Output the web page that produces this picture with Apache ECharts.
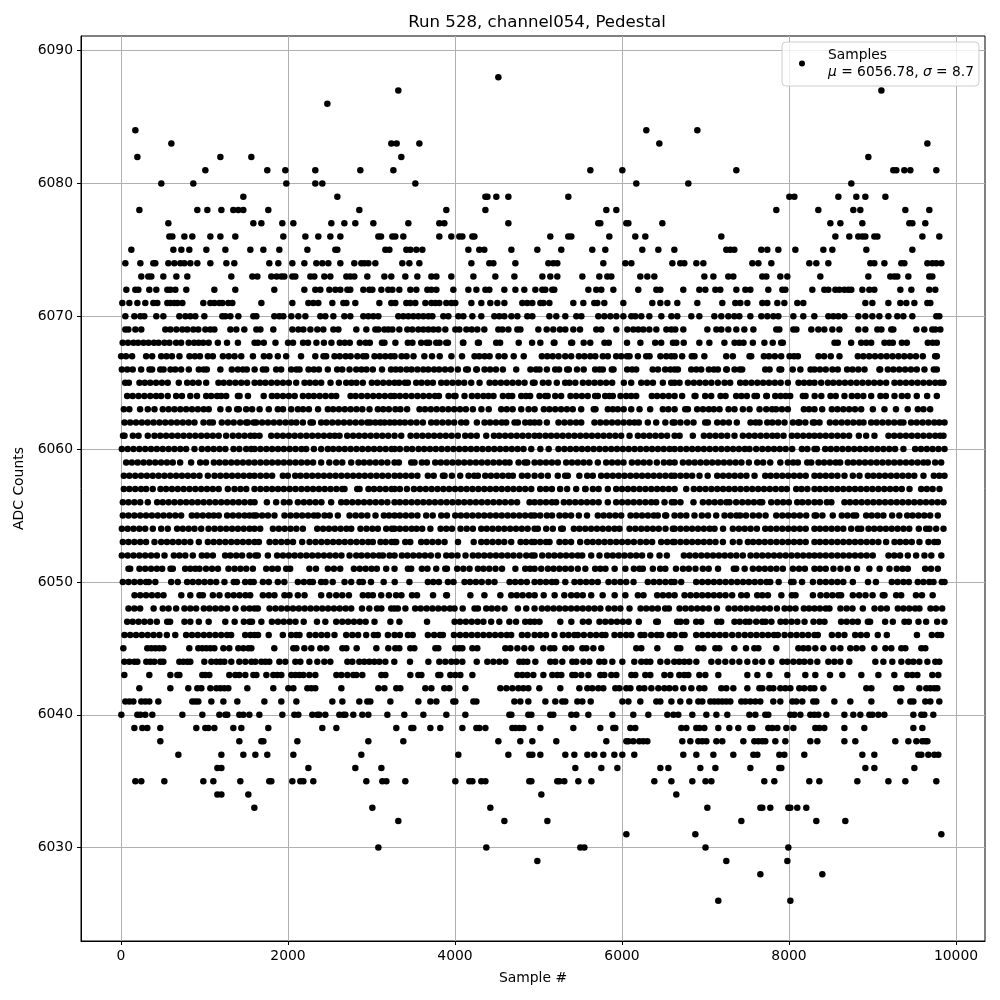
<!DOCTYPE html>
<html><head><meta charset="utf-8">
<style>html,body{margin:0;padding:0;background:#fff}#c{width:1000px;height:1000px}</style>
<script src="https://cdn.jsdelivr.net/npm/echarts@6/dist/echarts.min.js"></script>
</head><body><div id="c"></div>
<script>
const titleText="Run 528, channel054, Pedestal";
const xName="Sample #";
const yName="ADC Counts";
const xTicks=[0,2000,4000,6000,8000,10000];
const yTicks=[6030,6040,6050,6060,6070,6080,6090];
const a6088=[4519];
const a6087=[3321,9106];
const a6086=[2471];
const a6084=[172,6291,6902];
const a6083=[603,3237,3301,3573,6447,9657];
const a6082=[196,1190,1561,3357,8950];
const a6081=[1010,1752,1968,2327,2866,3262,5621,6004,7369,9249,9285,9381,9453,9764];
const a6080=[483,866,1980,2327,2411,3525,6171,6794,8746];
const a6079=[1465,2591,4364,4388,4495,4639,5357,8004,8064,8591,8806,8914,9154];
const a6078=[220,914,1034,1202,1345,1405,1465,1764,2854,3896,4364,5812,5932,7848,8351,8770,8854,9393,9680];
const a6077=[567,1585,1681,1932,2064,2519,2675,2806,3022,3441,3812,3872,4639,5716,5740,6052,6076,6483,8495,8615,8878,9441,9477,9632];
const a6076=[579,615,759,854,1070,1190,1369,1944,2208,2363,2507,2627,3082,3114,3250,3285,3381,3812,3956,4052,4088,4208,4232,5141,5357,5393,5848,6159,6279,7189,8555,8722,8830,8878,8914,9022,9058,9597,9800];
const a6075=[124,627,723,818,1022,1250,1549,1705,1896,2232,2567,2591,3166,3214,3417,3465,3537,3609,4160,4291,4351,4675,4986,5273,5644,5800,6243,6435,6627,7249,7297,7345,7668,7740,7872,8076,8411,8519,8926,9477];
const a6074=[52,232,387,411,567,639,711,759,830,914,1070,1262,1357,1776,1884,2052,2196,2339,2411,2483,2627,2794,2878,2914,2962,3046,3369,3453,3573,4196,4411,4459,4723,5118,5177,5225,5776,6040,6112,6603,6698,6746,6890,6974,7561,7633,7788,8243,8327,8471,8974,9022,9142,9345,9381,9657,9716,9764,9824];
const a6073=[243,327,363,507,663,794,1321,1573,1633,1800,1864,1920,1956,2052,2088,2268,2315,2435,2507,2699,2746,2794,2950,3154,3237,3405,3549,3717,3777,3956,4220,4483,4711,5046,5141,5225,5525,5728,5824,5872,6219,6303,6387,6986,7094,7273,7333,7680,7728,7896,7980,8375,8950,9213,9261,9297,9429,9680,9716];
const a6072=[64,172,208,339,423,555,591,651,782,1118,1369,1836,2196,2327,2387,2495,2567,2627,2711,2746,2902,2974,3010,3118,3201,3250,3333,3465,3537,3669,3717,3777,3980,4160,4256,4364,4411,4591,4723,4830,4962,5046,5082,5165,5189,5597,5692,5752,5896,6195,6411,6459,6734,6926,6998,7118,7177,7369,7477,7537,7752,7920,7956,8279,8423,8471,8555,8603,8663,8710,8746,8878,8962,9022,9333,9465,9680,9752];
const a6071=[16,100,196,291,387,435,555,591,639,675,735,986,1070,1118,1178,1214,1285,1333,1681,2052,2244,2303,2363,2531,2663,2699,2806,3094,3237,3285,3417,3465,3525,3645,3717,3765,3812,3896,3956,4004,4196,4315,4423,4507,4591,4806,4866,4926,5022,5058,5130,5417,5537,5668,5704,5788,6016,6363,6459,6543,6662,6902,7201,7357,7417,7501,7680,7740,7860,7944,8099,8171,8914,8998,9190,9333,9405,9501,9657,9692];
const a6070=[52,160,232,279,423,507,699,771,830,890,998,1214,1250,1310,1405,1585,1621,1836,1896,1944,2040,2124,2208,2387,2447,2543,2675,2746,2902,2962,3022,3082,3321,3381,3441,3501,3561,3621,3681,3729,3860,3920,4040,4100,4208,4315,4471,4531,4591,4675,4747,4866,4926,5130,5213,5321,5453,5513,5716,5788,5860,5932,6016,6112,6159,6231,6327,6471,6591,6662,6830,6926,7106,7189,7273,7345,7405,7537,7668,7740,7812,7872,8052,8171,8303,8471,8531,8591,8663,8830,8914,8998,9082,9190,9297,9369,9477,9764,9800];
const a6069=[52,88,172,243,531,591,663,735,794,866,926,1010,1070,1118,1310,1381,1477,1621,1669,1824,2052,2124,2184,2268,2351,2423,2543,2603,2818,2938,3046,3082,3154,3201,3250,3333,3429,3489,3561,3621,3681,3741,3801,3884,4004,4052,4136,4200,4267,4351,4519,4567,4639,4747,4783,4998,5098,5177,5257,5321,5417,5497,5692,5752,5932,6064,6135,6195,6255,6327,6411,6531,6591,6638,6734,7022,7130,7189,7273,7369,7465,7573,7848,7884,8052,8088,8267,8351,8423,8519,8603,8830,8914,9058,9106,9225,9249,9525,9620,9716,9752,9812];
const a6068=[20,84,150,205,270,330,395,450,520,580,660,720,810,875,930,985,1050,1160,1270,1400,1600,1640,1710,1850,2000,2060,2180,2240,2340,2430,2520,2620,2680,2740,2860,2930,2980,3125,3155,3286,3435,3490,3595,3660,3690,3775,3815,3895,3915,4095,4100,4274,4286,4493,4540,4763,4923,5022,5183,5191,5391,5403,5541,5620,5790,5842,6060,6220,6397,6469,6610,6650,6739,6926,7046,7226,7348,7405,7455,7567,7705,7805,7906,7926,8545,8584,8744,8864,8925,8984,9143,9200,9243,9351,9411,9662,9720,9770];
const a6067=[2,60,133,301,373,481,545,610,700,820,885,945,1040,1100,1220,1290,1360,1440,1580,1711,1778,1878,1978,2156,2327,2425,2457,2557,2620,2690,2750,2830,2900,2936,3036,3100,3165,3230,3276,3360,3420,3503,3633,3725,3817,3957,4084,4234,4290,4355,4414,4521,4593,4703,4823,5040,5105,5170,5240,5320,5391,5483,5550,5620,5680,5770,5830,5930,5990,6060,6090,6190,6290,6330,6460,6530,6590,6630,6720,6836,6868,6986,7248,7327,7527,7547,7699,7760,7830,7906,8006,8060,8106,8353,8420,8500,8604,8824,8890,8960,9030,9100,9170,9240,9310,9380,9450,9520,9602,9750,9770];
const a6066=[10,75,140,241,341,373,470,510,593,650,720,812,932,990,1028,1190,1327,1400,1460,1507,1600,1699,1739,1858,1918,2038,2100,2138,2246,2310,2370,2477,2589,2650,2737,2817,2880,2940,3016,3126,3234,3290,3348,3420,3480,3550,3620,3680,3750,3810,3880,3950,4034,4134,4154,4254,4262,4354,4420,4490,4573,4733,4903,4970,5012,5100,5200,5246,5343,5363,5461,5541,5678,5730,5770,5878,5898,6062,6120,6170,6367,6431,6517,6580,6630,6669,6829,6890,6948,7040,7100,7148,7248,7256,7348,7410,7439,7715,7767,7886,7906,8044,8136,8258,8305,8370,8440,8520,8584,8696,8760,8830,8904,9083,9091,9183,9250,9320,9390,9460,9530,9622,9734,9770];
const a6065=[50,94,221,285,350,420,490,560,692,792,860,930,1020,1167,1230,1300,1370,1440,1510,1600,1665,1730,1800,1870,1940,2010,2098,2198,2262,2330,2397,2509,2609,2697,2760,2820,2896,3004,3070,3140,3210,3276,3330,3400,3436,3535,3600,3670,3735,3835,3900,3970,4040,4110,4194,4294,4414,4480,4550,4620,4690,4760,4833,4933,4953,5052,5120,5219,5319,5371,5441,5531,5600,5670,5740,5810,5882,6022,6110,6230,6300,6370,6489,6589,6630,6689,6789,6860,6930,7000,7070,7148,7228,7295,7415,7480,7550,7620,7690,7760,7830,7900,7986,8114,8180,8246,8305,8385,8465,8530,8600,8670,8740,8810,8880,8950,9020,9090,9163,9263,9330,9400,9470,9540,9610,9680,9750,9810,9850];
const a6064=[74,140,210,280,350,420,480,560,660,730,830,910,1020,1080,1150,1200,1260,1400,1420,1520,1709,1807,1870,1940,2010,2080,2178,2246,2310,2380,2450,2520,2577,2749,2810,2880,2950,3020,3090,3160,3230,3276,3340,3410,3480,3550,3620,3690,3760,3807,3923,3990,4006,4114,4202,4270,4340,4400,4461,4573,4640,4685,4793,4850,4900,5012,5080,5110,5200,5271,5383,5450,5520,5590,5678,5710,5798,5850,5890,5982,6050,6110,6170,6357,6420,6490,6560,6630,6720,6869,6880,6996,7068,7180,7240,7367,7430,7495,7587,7615,7727,7735,7835,7900,7960,8014,8166,8198,8307,8387,8497,8560,8664,8752,8820,8890,8984,9095,9160,9263,9351,9420,9530,9654,9770];
const a6063=[34,100,229,321,401,500,570,640,710,780,850,920,990,1051,1190,1289,1391,1411,1499,1570,1660,1770,1878,1940,2038,2118,2180,2250,2360,2477,2540,2610,2680,2750,2820,2890,2976,3076,3140,3208,3286,3346,3426,3575,3640,3710,3780,3850,3920,3990,4060,4130,4214,4316,4404,4553,4620,4690,4793,4881,4953,5064,5130,5200,5270,5340,5410,5511,5662,5682,5830,5890,5950,6020,6110,6210,6337,6489,6555,6630,6757,6789,6900,6970,7040,7100,7168,7276,7347,7447,7527,7647,7727,7797,7845,7915,7986,8178,8240,8305,8397,8513,8580,8650,8720,8790,8864,9004,9143,9281,9421,9542,9610,9690];
const a6062=[42,110,180,250,320,390,460,530,600,670,740,810,880,988,1060,1100,1207,1280,1350,1427,1499,1519,1589,1619,1690,1760,1830,1900,1970,2040,2100,2178,2270,2297,2397,2460,2530,2600,2670,2740,2810,2880,2950,2984,3046,3106,3156,3220,3276,3340,3400,3470,3540,3615,3715,3780,3850,3920,3990,4074,4134,4262,4354,4420,4490,4560,4613,4713,4753,4841,4900,4953,5010,5100,5239,5310,5380,5450,5511,5670,5740,5810,5880,5950,6020,6090,6150,6201,6309,6409,6519,6607,6630,6700,6780,6856,6996,7028,7140,7210,7280,7375,7539,7600,7647,7739,7800,7870,7946,8046,8110,8126,8196,8286,8305,8365,8489,8560,8630,8700,8770,8840,8892,8984,9050,9120,9190,9260,9330,9370,9462,9530,9600,9670,9740,9800,9862];
const a6061=[24,42,142,210,321,401,470,540,610,680,750,820,890,960,1030,1100,1170,1259,1339,1410,1480,1550,1600,1659,1799,1870,1940,2010,2080,2150,2220,2290,2360,2430,2500,2560,2617,2709,2780,2850,2920,2990,3060,3130,3200,3276,3356,3468,3540,3610,3680,3750,3820,3890,3960,4034,4122,4190,4260,4374,4466,4530,4600,4670,4740,4810,4880,4953,5012,5084,5150,5220,5290,5360,5430,5500,5570,5640,5710,5780,5850,5920,5990,6090,6190,6260,6330,6400,6470,6540,6630,6690,6848,6980,7050,7120,7190,7260,7347,7447,7520,7590,7660,7730,7800,7860,7934,8034,8100,8170,8240,8305,8370,8440,8510,8580,8650,8720,8836,8924,9023,9191,9260,9330,9400,9470,9540,9610,9680,9750,9810,9850];
const a6060=[10,80,150,220,290,360,430,500,570,640,710,780,880,968,1040,1110,1180,1250,1347,1417,1499,1560,1600,1670,1740,1810,1880,1950,2020,2090,2160,2218,2310,2397,2477,2540,2610,2680,2750,2820,2890,2960,3030,3100,3170,3240,3276,3340,3420,3487,3563,3630,3700,3770,3840,3910,3980,4050,4120,4190,4260,4330,4400,4470,4540,4610,4680,4750,4820,4913,5022,5122,5239,5310,5380,5450,5520,5590,5660,5730,5800,5870,5940,6010,6080,6150,6220,6290,6360,6430,6500,6570,6630,6700,6770,6840,6910,6980,7050,7120,7190,7260,7330,7400,7470,7527,7607,7680,7750,7820,7890,7960,8038,8154,8220,8305,8333,8433,8500,8570,8640,8710,8780,8850,8920,8990,9060,9130,9200,9270,9370,9510,9580,9650,9720,9790,9862];
const a6059=[62,130,200,270,340,410,480,550,620,708,840,948,1018,1112,1180,1250,1320,1390,1460,1530,1599,1670,1740,1810,1880,1950,2020,2090,2160,2230,2300,2397,2495,2577,2650,2757,2844,2910,2980,3050,3120,3190,3276,3328,3476,3515,3603,3663,3763,3830,3900,3970,4040,4110,4180,4250,4320,4390,4460,4530,4600,4653,4761,4835,4865,4953,5020,5090,5160,5231,5331,5400,5470,5540,5610,5710,5810,5880,5950,6018,6118,6190,6260,6330,6417,6501,6570,6630,6729,6800,6870,6940,7010,7080,7150,7220,7290,7360,7430,7519,7619,7690,7775,7896,7986,8050,8106,8218,8266,8353,8420,8490,8560,8612,8704,8770,8840,8910,8980,9050,9120,9190,9260,9330,9400,9470,9540,9610,9662,9750,9822];
const a6058=[34,100,170,240,310,380,450,520,590,660,730,800,870,940,1040,1120,1190,1260,1330,1400,1470,1540,1599,1670,1740,1810,1938,1998,2086,2150,2220,2290,2360,2430,2500,2570,2640,2710,2780,2850,2920,2990,3060,3130,3200,3276,3340,3410,3480,3550,3675,3745,3855,3875,3963,4062,4162,4230,4274,4362,4430,4500,4570,4640,4693,4801,4870,4953,5032,5112,5231,5319,5351,5489,5583,5650,5750,5820,5890,5960,6030,6100,6170,6240,6310,6380,6450,6520,6590,6630,6700,6770,6840,6928,7026,7140,7210,7280,7350,7420,7490,7587,7715,7780,7850,7920,7990,8060,8130,8200,8305,8370,8440,8510,8580,8664,8764,8844,8944,9010,9080,9150,9220,9290,9360,9430,9500,9610,9734,9800,9862];
const a6057=[34,100,170,240,301,380,473,540,610,680,750,820,890,960,1030,1100,1170,1279,1359,1430,1500,1599,1670,1740,1810,1880,1950,2020,2090,2160,2230,2300,2370,2440,2510,2580,2650,2677,2829,2857,2964,3030,3100,3170,3240,3276,3340,3424,3508,3580,3650,3720,3790,3860,3930,4000,4070,4140,4210,4280,4350,4420,4490,4560,4630,4700,4770,4840,4913,5020,5090,5160,5259,5343,5451,5559,5563,5651,5720,5830,5930,6000,6070,6140,6210,6280,6350,6420,6490,6560,6630,6769,6860,6930,7000,7070,7140,7210,7280,7350,7420,7490,7560,7630,7700,7770,7840,7910,7974,8086,8150,8220,8305,8370,8440,8510,8580,8650,8720,8790,8860,8930,9000,9070,9140,9210,9280,9350,9443,9582,9650,9720,9802];
const a6056=[22,90,160,230,321,433,500,570,640,710,780,850,920,990,1060,1130,1200,1270,1340,1410,1480,1550,1599,1747,1858,1950,2018,2118,2190,2260,2330,2400,2517,2637,2700,2770,2840,2910,2980,3050,3120,3190,3276,3340,3410,3480,3550,3620,3690,3760,3830,3900,3970,4040,4110,4180,4250,4320,4390,4460,4530,4600,4673,4743,4893,4953,5020,5090,5160,5211,5303,5370,5440,5510,5580,5650,5720,5830,5930,6000,6070,6140,6210,6280,6350,6409,6509,6597,6630,6700,6856,6968,7040,7110,7180,7250,7287,7367,7440,7510,7580,7650,7679,7787,7860,7930,7998,8098,8160,8230,8305,8370,8453,8507,8664,8730,8800,8870,8940,9010,9080,9150,9220,9290,9360,9430,9500,9570,9640,9710,9780,9850];
const a6055=[22,90,160,230,300,370,440,510,580,650,720,848,910,980,1050,1110,1171,1271,1340,1410,1480,1539,1589,1619,1690,1760,1838,1958,2030,2100,2170,2240,2310,2357,2437,2500,2597,2737,2810,2880,2950,3048,3148,3210,3276,3340,3410,3480,3550,3655,3733,3835,3903,4003,4070,4140,4210,4280,4350,4420,4490,4560,4630,4700,4770,4840,4910,4953,5020,5100,5162,5251,5320,5390,5483,5581,5710,5780,5850,5920,5990,6102,6170,6240,6310,6380,6429,6517,6529,6629,6700,6770,6868,6956,7030,7128,7228,7300,7370,7415,7485,7567,7640,7719,7847,7920,7990,8060,8130,8206,8307,8325,8400,8524,8632,8700,8770,8804,8924,8990,9060,9130,9235,9321,9415,9480,9550,9620,9690,9782];
const a6054=[10,80,150,220,290,381,481,560,672,740,810,880,960,1048,1120,1190,1260,1330,1400,1470,1540,1599,1667,1819,1890,1960,2030,2100,2178,2350,2420,2490,2560,2630,2700,2757,2868,2940,3010,3076,3176,3244,3276,3340,3410,3480,3540,3607,3705,3827,3895,3964,4066,4140,4214,4314,4380,4450,4520,4590,4660,4730,4800,4870,4953,4992,5092,5171,5271,5291,5423,5490,5560,5630,5700,5770,5840,5910,5970,6090,6160,6230,6300,6370,6440,6521,6609,6630,6700,6770,6840,6910,6980,7050,7108,7210,7327,7400,7470,7540,7615,7715,7780,7850,7920,7990,8060,8130,8200,8305,8370,8440,8510,8580,8650,8744,8824,8864,8952,9020,9090,9160,9230,9300,9370,9440,9554,9642,9682,9762,9850];
const a6053=[22,90,160,230,300,401,481,550,620,690,760,830,932,1040,1110,1180,1250,1320,1390,1460,1530,1599,1651,1779,1850,1920,1990,2060,2170,2258,2330,2400,2470,2540,2610,2680,2750,2820,2890,2960,3016,3108,3170,3240,3276,3296,3404,3464,3595,3660,3730,3800,3875,4036,4224,4314,4380,4450,4520,4590,4673,4785,4850,4920,4953,5020,5090,5132,5251,5320,5390,5499,5583,5650,5720,5790,5860,5930,6000,6070,6142,6220,6290,6361,6469,6540,6610,6630,6700,6770,6840,6910,6980,7050,7120,7208,7327,7407,7507,7570,7640,7710,7780,7850,7920,7990,8060,8130,8200,8305,8370,8440,8510,8580,8650,8720,8790,8860,8930,9000,9070,9163,9263,9330,9400,9470,9562,9670,9740,9782];
const a6052=[10,80,150,220,290,360,430,521,633,700,770,860,968,1030,1100,1247,1310,1380,1450,1539,1609,1639,1759,1870,1940,2010,2080,2150,2220,2290,2360,2430,2500,2570,2640,2737,2817,2880,2950,3020,3090,3136,3216,3276,3364,3430,3500,3570,3640,3710,3795,3895,3960,4030,4126,4214,4280,4350,4420,4490,4560,4630,4700,4773,4853,4920,4953,5044,5120,5190,5260,5330,5400,5470,5523,5631,5730,5822,5890,5960,6030,6100,6170,6240,6337,6449,6537,6741,6810,6880,6950,7020,7090,7160,7230,7300,7370,7447,7539,7610,7680,7750,7820,7890,7960,8030,8100,8170,8240,8305,8370,8440,8510,8580,8650,8720,8790,8860,8930,9003,9191,9260,9330,9423,9522,9622,9704,9824];
const a6051=[90,110,221,290,360,430,493,593,620,768,830,890,940,1018,1090,1161,1287,1360,1430,1500,1579,1739,1810,1878,1978,2026,2256,2335,2477,2550,2625,2789,2860,2930,3000,3064,3176,3276,3436,3475,3603,3670,3775,3883,3903,4026,4100,4174,4274,4340,4410,4485,4563,4723,4841,4900,4953,5032,5112,5180,5250,5320,5390,5471,5561,5678,5740,5802,5912,6040,6142,6210,6249,6369,6457,6519,6646,6730,6800,6880,6968,7038,7150,7339,7367,7469,7567,7640,7710,7780,7850,7926,8046,8120,8190,8305,8370,8440,8532,8616,8704,8814,8962,9085,9203,9290,9360,9423,9630,9700,9782];
const a6050=[22,90,160,230,300,333,411,601,680,792,860,930,1000,1070,1140,1239,1351,1387,1487,1550,1589,1699,1770,1878,1956,2118,2190,2260,2297,2397,2449,2535,2677,2757,2856,2896,2994,3146,3278,3454,3675,3740,3807,3915,3982,4114,4180,4250,4320,4400,4473,4653,4720,4790,4860,4953,5020,5090,5160,5211,5321,5431,5500,5570,5640,5710,5838,5910,5980,6050,6138,6309,6380,6450,6520,6589,6629,6709,6888,6960,7030,7100,7170,7240,7310,7380,7450,7520,7590,7660,7730,7775,7876,8026,8054,8156,8286,8370,8440,8510,8580,8650,8764,8946,9041,9231,9300,9370,9435,9542,9610,9680,9730,9830,9862];
const a6049=[162,230,300,370,440,509,722,830,940,980,1100,1179,1279,1350,1420,1490,1547,1699,1770,1838,1958,2018,2118,2198,2397,2495,2577,2650,2729,2896,2960,3016,3116,3208,3294,3358,3485,3545,3737,3895,3903,4184,4352,4543,4673,4740,4810,4885,4954,5062,5193,5309,5391,5460,5530,5631,5768,5912,6040,6190,6257,6421,6490,6560,6630,6749,6820,6890,6960,7030,7100,7170,7240,7319,7427,7495,7619,7680,7747,7908,8034,8078,8286,8377,8450,8520,8590,8624,8764,8840,8916,9001,9123,9143,9283,9343,9520,9592,9720];
const a6048=[90,160,229,391,500,570,660,760,830,900,992,1060,1130,1200,1270,1371,1471,1540,1599,1639,1779,1850,1920,1990,2060,2130,2200,2270,2340,2410,2480,2550,2620,2690,2757,2886,2974,3066,3118,3236,3276,3316,3406,3523,3590,3660,3730,3800,3870,3940,3994,4092,4234,4274,4374,4440,4510,4593,4753,4853,4953,5040,5110,5180,5250,5320,5390,5460,5530,5600,5670,5740,5838,5910,5980,6090,6222,6290,6360,6429,6517,6561,6689,6760,6830,6900,6970,7040,7136,7276,7350,7420,7490,7560,7630,7700,7770,7855,7947,8010,8078,8178,8240,8305,8370,8440,8484,8616,8690,8760,8884,9024,9100,9171,9303,9370,9440,9510,9562,9694,9760,9834];
const a6047=[74,140,210,280,350,429,553,588,760,830,932,1050,1249,1361,1471,1540,1569,1681,1807,1880,1950,2020,2090,2188,2347,2447,2577,2650,2720,2790,2860,2930,3036,3226,3334,3665,3995,4060,4130,4200,4270,4340,4433,4531,4651,4731,4841,4900,4953,5012,5261,5393,5531,5602,5730,5800,5870,5940,6010,6080,6201,6409,6429,6660,6701,6769,6888,6948,7140,7188,7347,7410,7480,7527,7607,7680,7719,7789,7898,7960,8030,8100,8186,8293,8365,8425,8624,8690,8760,8824,8944,8971,9151,9243,9383,9435,9550,9642,9774,9862];
const a6046=[42,110,180,250,320,390,460,549,650,780,850,920,992,1060,1130,1200,1270,1319,1487,1550,1599,1641,1769,1938,2038,2100,2138,2258,2330,2400,2470,2557,2697,2770,2840,2936,3028,3076,3196,3276,3340,3436,3493,3675,3750,3820,3855,3987,4060,4130,4200,4270,4340,4410,4480,4550,4620,4673,4801,4870,4953,5020,5090,5191,5291,5360,5430,5471,5543,5620,5690,5760,5802,5910,5980,6050,6112,6222,6269,6349,6420,6469,6569,6630,6717,6749,6888,6960,7030,7100,7170,7240,7319,7395,7470,7540,7610,7680,7750,7820,7866,7947,8020,8090,8160,8230,8305,8345,8513,8590,8664,8792,8860,8932,9063,9171,9532,9710,9780,9822];
const a6045=[28,315,363,411,459,507,818,926,974,1022,1070,1118,1226,1297,1405,1465,1525,1561,1836,2064,2100,2196,2279,2387,2459,2651,2699,2822,3058,3201,3285,3333,3465,3513,3765,3800,4004,4052,4088,4208,4267,4603,4663,4747,4830,4914,5058,5141,5189,5321,5393,5525,5573,5657,5752,6171,6231,6423,6662,6698,6914,6974,7118,7165,7345,7485,7585,7633,7848,8112,8171,8231,8315,8411,8531,8615,8734,8806,8878,9022,9154,9225,9345,9393,9585,9632];
const a6044=[40,100,160,196,303,351,399,471,507,699,747,794,830,998,1082,1142,1190,1238,1321,1417,1489,1561,1609,1681,1729,1776,1896,1968,2088,2148,2256,2351,2435,2507,2711,2770,2854,2914,2974,3034,3094,3166,3273,3461,3681,3812,3884,3956,4016,4088,4260,4387,4459,4531,4603,4771,4818,4866,4962,5141,5201,5285,5405,5453,5537,5609,5728,5788,5884,6004,6147,6231,6291,6339,6459,6543,6626,6686,6746,6806,6890,7070,7153,7237,7321,7405,7501,7597,7680,7788,7920,7980,8052,8123,8183,8255,8339,8471,8543,8615,8722,9034,9130,9237,9345,9429,9489,9561,9657,9752,9800];
const a6043=[40,339,591,675,699,974,1010,1058,1297,1369,1417,1489,1585,1621,1741,1824,1872,1920,2040,2088,2136,2184,2256,2327,2579,2639,2711,2782,2818,2890,3118,3166,3465,3561,3597,3800,3824,3944,4004,4064,4208,4747,4806,4866,4938,5058,5165,5225,5273,5405,5441,5513,5597,5740,5788,5872,5932,6112,6159,6279,6339,6507,6579,6686,6746,6794,6926,6998,7153,7501,7621,7764,7980,8195,8315,8491,8638,8866,9070,9261,9417,9477,9537,9716,9788];
const a6042=[220,591,806,914,962,1070,1142,1190,1238,1285,1513,1824,2004,2064,2232,2279,2327,2639,3082,3154,3297,3345,3645,3717,3872,3932,4124,4543,4615,4687,4759,4818,4878,5010,5261,5489,5585,5644,5716,5776,5920,5968,6052,6100,6207,6267,6351,6435,6507,6567,6638,6734,6830,6926,6986,7189,7249,7333,7501,7645,7680,7764,7812,7896,7956,8016,8123,8183,8255,8303,8411,8926,8986,9285,9345,9561,9644,9692,9740,9776];
const a6041=[52,100,148,243,291,339,447,854,890,926,1082,1226,1393,1717,1920,2100,2531,2651,2854,2950,2986,3226,3561,3705,3777,3980,4004,4220,4256,4711,4782,4878,5082,5201,5285,5321,5465,5525,5625,6004,6076,6219,6411,6459,6591,6698,6806,6914,6962,7058,7106,7153,7201,7249,7297,7429,7477,7537,7597,7656,7812,7896,8040,8088,8159,8291,8327,8543,8734,8986,9333,9453,9489,9632,9692,9800];
const a6040=[4,196,232,291,375,735,974,1178,1250,1273,1417,1465,1537,1657,1932,2076,2124,2291,2351,2375,2447,2615,2663,2687,2782,2890,2962,3190,3393,3621,3896,4124,4651,4675,4878,4914,5141,5177,5393,5453,5597,5884,6135,6315,6543,6615,6674,6842,7010,7130,7261,7525,7597,7716,7752,8016,8064,8136,8255,8303,8351,8447,8663,8770,8854,8962,8998,9070,9142,9489,9585,9620,9728];
const a6039=[160,255,315,471,902,1010,1046,1118,1345,1441,1764,2411,2579,3297,3477,3501,3705,3824,4088,4256,4291,4364,4687,4723,4771,4818,5022,5417,5740,5896,5920,6100,6159,6710,6770,6890,6926,6986,7153,7285,7393,7537,7561,7752,7800,7860,7968,8052,8315,8363,8423,8663,8902,9489,9597];
const a6038=[471,1417,1681,1705,2112,2962,3381,4519,4782,4926,5213,5812,6052,6076,6135,6207,6255,6303,6722,6818,6914,6962,7010,7130,7201,7453,7585,7633,7680,7716,7836,7956,8255,8339,8663,8794,9273,9429,9525,9597,9632,9657];
const a6037=[687,1202,1465,1609,1752,2064,2878,4040,4639,4890,4926,5022,5321,5429,5585,5668,5776,5908,6004,6147,6734,6890,7094,7333,7573,7621,7884,7944,8183,8878,9022,9549,9585,9668,9740,9788];
const a6036=[1154,1202,2244,2806,3118,5441,5752,5944,6459,6555,6938,7118,7537,7884,7908,8914,9022,9501];
const a6035=[172,243,519,986,1106,1429,1776,1800,2052,2148,2184,2303,2938,3130,3178,3405,4004,4172,4208,4315,4364,4890,4914,5225,5249,5309,5477,5633,6387,6591,6842,7000,7070,7704,7824,8243,8363,8818,9190,9393,9764];
const a6034=[1154,1202,1525,5034,6650];
const a6033=[1597,3010,4423,7022,7657,7680,7776,7992,8016,8099,8207];
const a6032=[3321,4591,5106,7429,8327,8674];
const a6031=[6052,6878,9824];
const a6030=[3082,4375,5501,5549,7000,7992];
const a6029=[4986,7249,7980];
const a6028=[7657,8399];
const a6026=[7153,8016];
const rows=[[6088,a6088],[6087,a6087],[6086,a6086],[6084,a6084],[6083,a6083],[6082,a6082],[6081,a6081],[6080,a6080],[6079,a6079],[6078,a6078],[6077,a6077],[6076,a6076],[6075,a6075],[6074,a6074],[6073,a6073],[6072,a6072],[6071,a6071],[6070,a6070],[6069,a6069],[6068,a6068],[6067,a6067],[6066,a6066],[6065,a6065],[6064,a6064],[6063,a6063],[6062,a6062],[6061,a6061],[6060,a6060],[6059,a6059],[6058,a6058],[6057,a6057],[6056,a6056],[6055,a6055],[6054,a6054],[6053,a6053],[6052,a6052],[6051,a6051],[6050,a6050],[6049,a6049],[6048,a6048],[6047,a6047],[6046,a6046],[6045,a6045],[6044,a6044],[6043,a6043],[6042,a6042],[6041,a6041],[6040,a6040],[6039,a6039],[6038,a6038],[6037,a6037],[6036,a6036],[6035,a6035],[6034,a6034],[6033,a6033],[6032,a6032],[6031,a6031],[6030,a6030],[6029,a6029],[6028,a6028],[6026,a6026]];
const points=[];
rows.forEach(([v,xs])=>xs.forEach(x=>points.push([x,v])));
const font='"DejaVu Sans"';
const chart=echarts.init(document.getElementById('c'),null,{renderer:'canvas'});
chart.setOption({
  animation:false,backgroundColor:'#fff',
  title:{text:titleText,left:532,top:9,textAlign:'center',textStyle:{fontFamily:font,fontSize:16.6,fontWeight:'normal',color:'#000'}},
  grid:{left:81,top:36,width:904,height:905,show:true,borderColor:'#000',borderWidth:1,backgroundColor:'transparent'},
  legend:{show:true,left:782,top:42,orient:'vertical',padding:[6,5,7,17],backgroundColor:'rgba(255,255,255,0.8)',borderColor:'#ccc',borderWidth:1,borderRadius:4,
    itemWidth:6,itemHeight:6,icon:'circle',
    formatter:()=>'{a|Samples}\n{m|μ}{a| = 6056.78, }{m|σ}{a| = 8.7}',
    itemStyle:{opacity:1},
    textStyle:{rich:{a:{fontFamily:font,fontSize:13.8,color:'#000',lineHeight:17},m:{fontFamily:font,fontSize:13.8,fontStyle:'italic',color:'#000',lineHeight:17}},padding:[0,0,0,18]},
    data:['Samples']},
  xAxis:{type:'value',min:-479,max:10347,name:xName,nameLocation:'middle',nameGap:30,nameTextStyle:{fontFamily:font,fontSize:13.9,color:'#000'},
    axisLine:{show:true,onZero:false,lineStyle:{color:'#000'}},
    axisTick:{show:true,length:4,customValues:xTicks,lineStyle:{color:'#000'}},
    axisLabel:{show:true,margin:8,customValues:xTicks,fontFamily:font,fontSize:13.9,color:'#000',formatter:v=>String(v)},
    splitLine:{show:true,lineStyle:{color:'#b0b0b0',width:1}}},
  yAxis:{type:'value',min:6022.97,max:6091.1,name:yName,nameLocation:'middle',nameRotate:90,nameGap:50,nameTextStyle:{fontFamily:font,fontSize:13.9,color:'#000'},
    axisLine:{show:true,onZero:false,lineStyle:{color:'#000'}},
    axisTick:{show:true,length:4,customValues:yTicks,lineStyle:{color:'#000'}},
    axisLabel:{show:true,margin:8,customValues:yTicks,fontFamily:font,fontSize:13.9,color:'#000',formatter:v=>String(v)},
    splitLine:{show:true,lineStyle:{color:'#b0b0b0',width:1}}},
  series:[{type:'scatter',name:'Samples',data:points,symbol:'circle',symbolSize:6.5,itemStyle:{color:'#000',opacity:1},silent:true,large:false,progressive:0,clip:true}]
});
</script></body></html>
